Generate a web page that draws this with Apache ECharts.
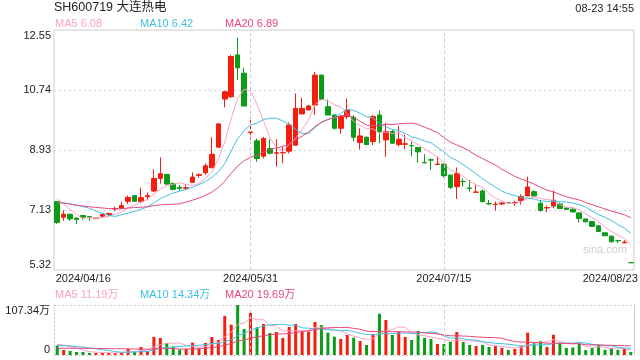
<!DOCTYPE html>
<html><head><meta charset="utf-8">
<script src="https://cdn.jsdelivr.net/npm/echarts@6/dist/echarts.min.js"></script>
<style>html,body{margin:0;padding:0;background:#fff}#c{width:640px;height:360px}</style>
</head><body><div id="c"></div>
<script>
const titleText = 'SH600719 大连热电';
const timeText = '08-23 14:55';
const dates = [
'2024/04/16','2024/04/17','2024/04/18','2024/04/19','2024/04/22','2024/04/23','2024/04/24','2024/04/25','2024/04/26','2024/04/29',
'2024/04/30','2024/05/06','2024/05/07','2024/05/08','2024/05/09','2024/05/10','2024/05/13','2024/05/14','2024/05/15','2024/05/16',
'2024/05/17','2024/05/20','2024/05/21','2024/05/22','2024/05/23','2024/05/24','2024/05/27','2024/05/28','2024/05/29','2024/05/30',
'2024/05/31','2024/06/03','2024/06/04','2024/06/05','2024/06/06','2024/06/07','2024/06/11','2024/06/12','2024/06/13','2024/06/14',
'2024/06/17','2024/06/18','2024/06/19','2024/06/20','2024/06/21','2024/06/24','2024/06/25','2024/06/26','2024/06/27','2024/06/28',
'2024/07/01','2024/07/02','2024/07/03','2024/07/04','2024/07/05','2024/07/08','2024/07/09','2024/07/10','2024/07/11','2024/07/12',
'2024/07/15','2024/07/16','2024/07/17','2024/07/18','2024/07/19','2024/07/22','2024/07/23','2024/07/24','2024/07/25','2024/07/26',
'2024/07/29','2024/07/30','2024/07/31','2024/08/01','2024/08/02','2024/08/05','2024/08/06','2024/08/07','2024/08/08','2024/08/09',
'2024/08/12','2024/08/13','2024/08/14','2024/08/15','2024/08/16','2024/08/19','2024/08/20','2024/08/21','2024/08/22','2024/08/23'];
const open = [7.38,6.91,7.00,6.88,6.96,6.93,6.87,6.94,6.99,7.16,
7.18,7.39,7.56,7.38,7.53,7.70,8.08,8.20,7.92,7.81,
7.78,7.96,8.17,8.25,8.40,9.02,10.47,10.54,11.80,11.25,
9.46,9.21,8.75,8.98,8.84,8.85,8.90,9.08,10.02,10.14,
10.29,11.19,10.24,9.99,9.59,9.94,9.92,9.16,9.32,9.19,
9.99,9.24,9.49,9.10,9.11,9.07,9.01,8.56,8.64,8.50,
8.51,8.18,7.83,7.99,7.79,7.66,7.70,7.32,7.29,7.31,
7.35,7.34,7.41,7.55,7.68,7.33,7.19,7.25,7.31,7.19,
7.15,7.04,6.86,6.78,6.65,6.44,6.34,6.21,6.14,5.54];
const close = [6.75,7.00,6.86,6.84,6.91,6.90,6.88,6.99,7.02,7.17,
7.26,7.51,7.39,7.50,7.56,8.08,8.22,7.91,7.75,7.78,
7.80,8.12,8.19,8.46,8.81,9.72,10.69,11.75,11.41,10.26,
9.48,8.68,9.28,8.84,8.85,8.86,9.69,10.19,10.19,10.26,
11.19,10.46,9.99,9.59,9.94,10.14,9.32,9.36,9.10,9.94,
9.49,9.49,9.14,9.26,9.12,9.06,8.88,8.55,8.63,8.51,
8.16,7.81,8.23,7.98,7.78,7.67,7.38,7.31,7.30,7.34,
7.34,7.35,7.53,7.82,7.55,7.11,7.20,7.42,7.17,7.15,
7.07,6.87,6.77,6.63,6.48,6.35,6.17,6.20,6.16,5.54];
const low = [6.71,6.80,6.80,6.71,6.82,6.80,6.85,6.91,6.92,7.09,
7.15,7.31,7.37,7.33,7.43,7.66,7.92,7.88,7.72,7.71,
7.72,7.96,8.10,8.19,8.40,9.02,10.22,10.50,11.04,10.26,
9.25,8.58,8.68,8.80,8.43,8.54,8.83,9.08,10.02,10.14,
9.99,10.44,9.99,9.55,9.43,9.86,9.19,8.95,9.08,9.08,
9.14,8.73,9.12,9.04,8.96,8.75,8.55,8.53,8.33,8.48,
8.11,7.76,7.46,7.83,7.68,7.65,7.36,7.28,7.11,7.28,
7.32,7.25,7.29,7.55,7.53,7.08,7.06,7.18,7.16,7.14,
7.06,6.75,6.76,6.62,6.46,6.35,6.15,6.13,6.13,5.54];
const high = [7.39,7.12,7.01,6.92,6.97,6.94,6.89,7.03,7.05,7.23,
7.36,7.56,7.58,7.80,7.66,8.35,8.71,8.22,7.96,7.88,
7.88,8.26,8.23,8.53,9.32,9.75,10.72,11.80,12.32,11.41,
9.94,9.28,9.33,9.26,9.26,9.04,9.77,10.64,10.51,10.30,
11.29,11.21,10.46,10.00,9.99,10.49,9.99,9.59,9.34,9.99,
10.12,9.76,9.56,9.66,9.39,9.19,9.01,8.81,8.68,8.73,
8.51,8.18,8.41,8.08,8.03,7.88,7.75,7.43,7.38,7.36,
7.37,7.41,7.60,8.13,7.72,7.43,7.26,7.71,7.35,7.20,
7.18,7.04,6.86,6.80,6.67,6.45,6.36,6.23,6.22,5.54];
// volume in 万 (10k shares)
const volume = [20.0,10.7,8.6,6.4,6.4,4.3,4.3,4.3,4.3,4.3,
6.4,12.9,8.6,17.2,8.6,38.6,36.5,25.8,17.2,11.5,
13.6,26.5,14.3,25.8,38.6,32.2,83.7,65.1,107.34,55.8,
90.2,59.4,66.6,47.2,49.4,36.5,60.1,66.6,50.1,50.1,
70.8,64.4,47.9,39.4,34.3,42.9,37.2,30.1,21.5,45.1,
88.7,75.1,42.9,50.1,38.6,32.2,51.5,36.5,34.3,23.6,
23.6,28.6,49.4,27.9,21.5,19.3,21.5,17.2,19.3,15.0,
10.7,12.9,20.0,48.0,27.2,29.5,17.2,43.5,26.4,15.0,
16.0,25.0,10.5,14.8,21.2,11.2,14.6,11.0,12.9,6.24];
// the 19 sessions before 2024/04/16 (not drawn, estimated from where the MA lines start)
const priorCloses = [7.30,7.45,7.50,7.40,7.35,7.28,7.32,7.40,7.30,7.20,7.10,7.15,7.25,7.30,7.40,7.73,7.70,7.62,7.50];
const priorVolumes = [7,8,6,9,8,7,9,8,8,8,15,17,20,19,22.5,20,25,22,27.5];
const priceTicks = [5.32, 7.13, 8.93, 10.74, 12.55];
const volumeTicks = [0, 107.34];
const dateLabels = ['2024/04/16','2024/05/31','2024/07/15','2024/08/23'];
const markDates = ['2024/05/31','2024/07/15'];

function ma(n, prior, vals) {
  const all = prior.concat(vals);
  return vals.map((_, i) => {
    const end = prior.length + i;
    let s = 0;
    for (let k = end - n + 1; k <= end; k++) s += all[k];
    return +(s / n).toFixed(4);
  });
}
const ma5 = ma(5, priorCloses, close), ma10 = ma(10, priorCloses, close), ma20 = ma(20, priorCloses, close);
const vma5 = ma(5, priorVolumes, volume), vma10 = ma(10, priorVolumes, volume), vma20 = ma(20, priorVolumes, volume);
const last = a => a[a.length - 1];

const FONT = '"Liberation Sans", Arial, "Noto Sans CJK SC", sans-serif';
const RED = '#f41d0e', GREEN = '#0a9b17', C5 = '#f7a3bf', C10 = '#3ec1e2', C20 = '#e9467c';
const sign = close.map((c, i) => c > open[i] ? 1 : c < open[i] ? -1 : (i > 0 && c < close[i - 1] ? -1 : 1));
const markLine = {
  silent: true, symbol: ['none', 'none'], label: {show: false},
  lineStyle: {color: '#c8c8c8', type: [3, 3], width: 1},
  data: markDates.map(d => ({xAxis: d}))
};
function t(text, left, top, color, size) {
  return {text, left, top, padding: 0, textStyle: {fontFamily: FONT, fontSize: size || 11, fontWeight: 'normal', color}};
}
const chart = echarts.init(document.getElementById('c'), null, {renderer: 'canvas'});
chart.setOption({
  animation: false,
  textStyle: {fontFamily: FONT},
  title: [
    t(titleText, 54, 1, '#222', 12.5),
    {text: timeText, right: 6, top: 3, padding: 0, textStyle: {fontFamily: FONT, fontSize: 11, fontWeight: 'normal', color: '#222'}},
    t('MA5 ' + last(ma5).toFixed(2), 55, 18, C5),
    t('MA10 ' + last(ma10).toFixed(2), 140, 18, C10),
    t('MA20 ' + last(ma20).toFixed(2), 225, 18, C20),
    t('MA5 ' + last(vma5).toFixed(2) + '万', 55, 289, C5),
    t('MA10 ' + last(vma10).toFixed(2) + '万', 140, 289, C10),
    t('MA20 ' + last(vma20).toFixed(2) + '万', 225, 289, C20)
  ],
  graphic: [{type: 'text', left: 583, top: 244, silent: true,
    style: {text: 'sina.com', fill: '#cfcfcf', font: '11px ' + FONT}}],
  grid: [
    {left: 54, right: 6, top: 30, height: 240, show: true, borderColor: '#cccccc', borderWidth: 1, outerBoundsMode: 'none'},
    {left: 54, right: 6, top: 305, height: 50, outerBoundsMode: 'none'}
  ],
  xAxis: [
    {type: 'category', gridIndex: 0, data: dates, boundaryGap: true,
     axisLine: {show: false}, axisTick: {show: false}, splitLine: {show: false},
     axisLabel: {interval: (i, v) => dateLabels.includes(v), color: '#222', fontSize: 11, margin: 3,
       alignMinLabel: 'left', alignMaxLabel: 'right', hideOverlap: false,
       formatter: v => v === dates[0] ? '{a|' + v + '}' : v === dates[dates.length - 1] ? '{b|' + v + '}' : v,
       rich: {a: {padding: [0, 0, 0, -1.5], fontSize: 11, color: '#222'}, b: {padding: [0, -7, 0, 0], fontSize: 11, color: '#222'}}}},
    {type: 'category', gridIndex: 1, data: dates, boundaryGap: true,
     axisLine: {show: false}, axisTick: {show: false}, axisLabel: {show: false}, splitLine: {show: false}}
  ],
  yAxis: [
    {type: 'value', gridIndex: 0, min: 5.32, max: 12.55, scale: true,
     axisLine: {show: false}, axisTick: {show: false, customValues: priceTicks},
     axisLabel: {customValues: priceTicks, color: '#222', fontSize: 11, margin: 3,
       formatter: v => priceTicks.reduce((b, x) => Math.abs(x - v) < Math.abs(b - v) ? x : b).toFixed(2),
       verticalAlignMinLabel: 'bottom', verticalAlignMaxLabel: 'top'},
     splitLine: {show: true, lineStyle: {color: ['rgba(0,0,0,0)', '#d6d6d6', '#d6d6d6', '#d6d6d6', 'rgba(0,0,0,0)'], type: [2, 3], width: 1}}},
    {type: 'value', gridIndex: 1, min: 0, max: 107.34,
     axisLine: {show: true, lineStyle: {color: '#cccccc', type: [2, 2]}}, axisTick: {show: false, customValues: volumeTicks},
     axisLabel: {customValues: volumeTicks, color: '#222', fontSize: 11, margin: 4,
       formatter: v => v > 1 ? volumeTicks[1].toFixed(2) + '万' : '0',
       verticalAlignMinLabel: 'bottom', verticalAlignMaxLabel: 'top'},
     splitLine: {show: true, lineStyle: {color: '#cccccc', type: [2, 2], width: 1}}},
    {type: 'value', gridIndex: 1, position: 'right', min: 0, max: 1,
     axisLine: {show: true, lineStyle: {color: '#cccccc'}}, axisTick: {show: false}, axisLabel: {show: false}, splitLine: {show: false}}
  ],
  series: [
    {type: 'candlestick', xAxisIndex: 0, yAxisIndex: 0, barWidth: 5,
     data: dates.map((d, i) => [open[i], close[i], low[i], high[i]]),
     itemStyle: {color: RED, color0: GREEN, borderColor: RED, borderColor0: GREEN, borderWidth: 1},
     markLine},
    {type: 'line', name: 'MA5', xAxisIndex: 0, yAxisIndex: 0, data: ma5, showSymbol: false, lineStyle: {color: C5, width: 1}, itemStyle: {color: C5}, silent: true},
    {type: 'line', name: 'MA10', xAxisIndex: 0, yAxisIndex: 0, data: ma10, showSymbol: false, lineStyle: {color: C10, width: 1}, itemStyle: {color: C10}, silent: true},
    {type: 'line', name: 'MA20', xAxisIndex: 0, yAxisIndex: 0, data: ma20, showSymbol: false, lineStyle: {color: C20, width: 1}, itemStyle: {color: C20}, silent: true},
    {type: 'bar', xAxisIndex: 1, yAxisIndex: 1, barWidth: 3,
     data: volume.map((v, i) => ({value: v, itemStyle: {color: sign[i] > 0 ? RED : GREEN}})),
     markLine},
    {type: 'line', xAxisIndex: 1, yAxisIndex: 1, data: vma5, showSymbol: false, lineStyle: {color: C5, width: 1}, silent: true},
    {type: 'line', xAxisIndex: 1, yAxisIndex: 1, data: vma10, showSymbol: false, lineStyle: {color: C10, width: 1}, silent: true},
    {type: 'line', xAxisIndex: 1, yAxisIndex: 1, data: vma20, showSymbol: false, lineStyle: {color: C20, width: 1}, silent: true}
  ]
});
</script></body></html>
